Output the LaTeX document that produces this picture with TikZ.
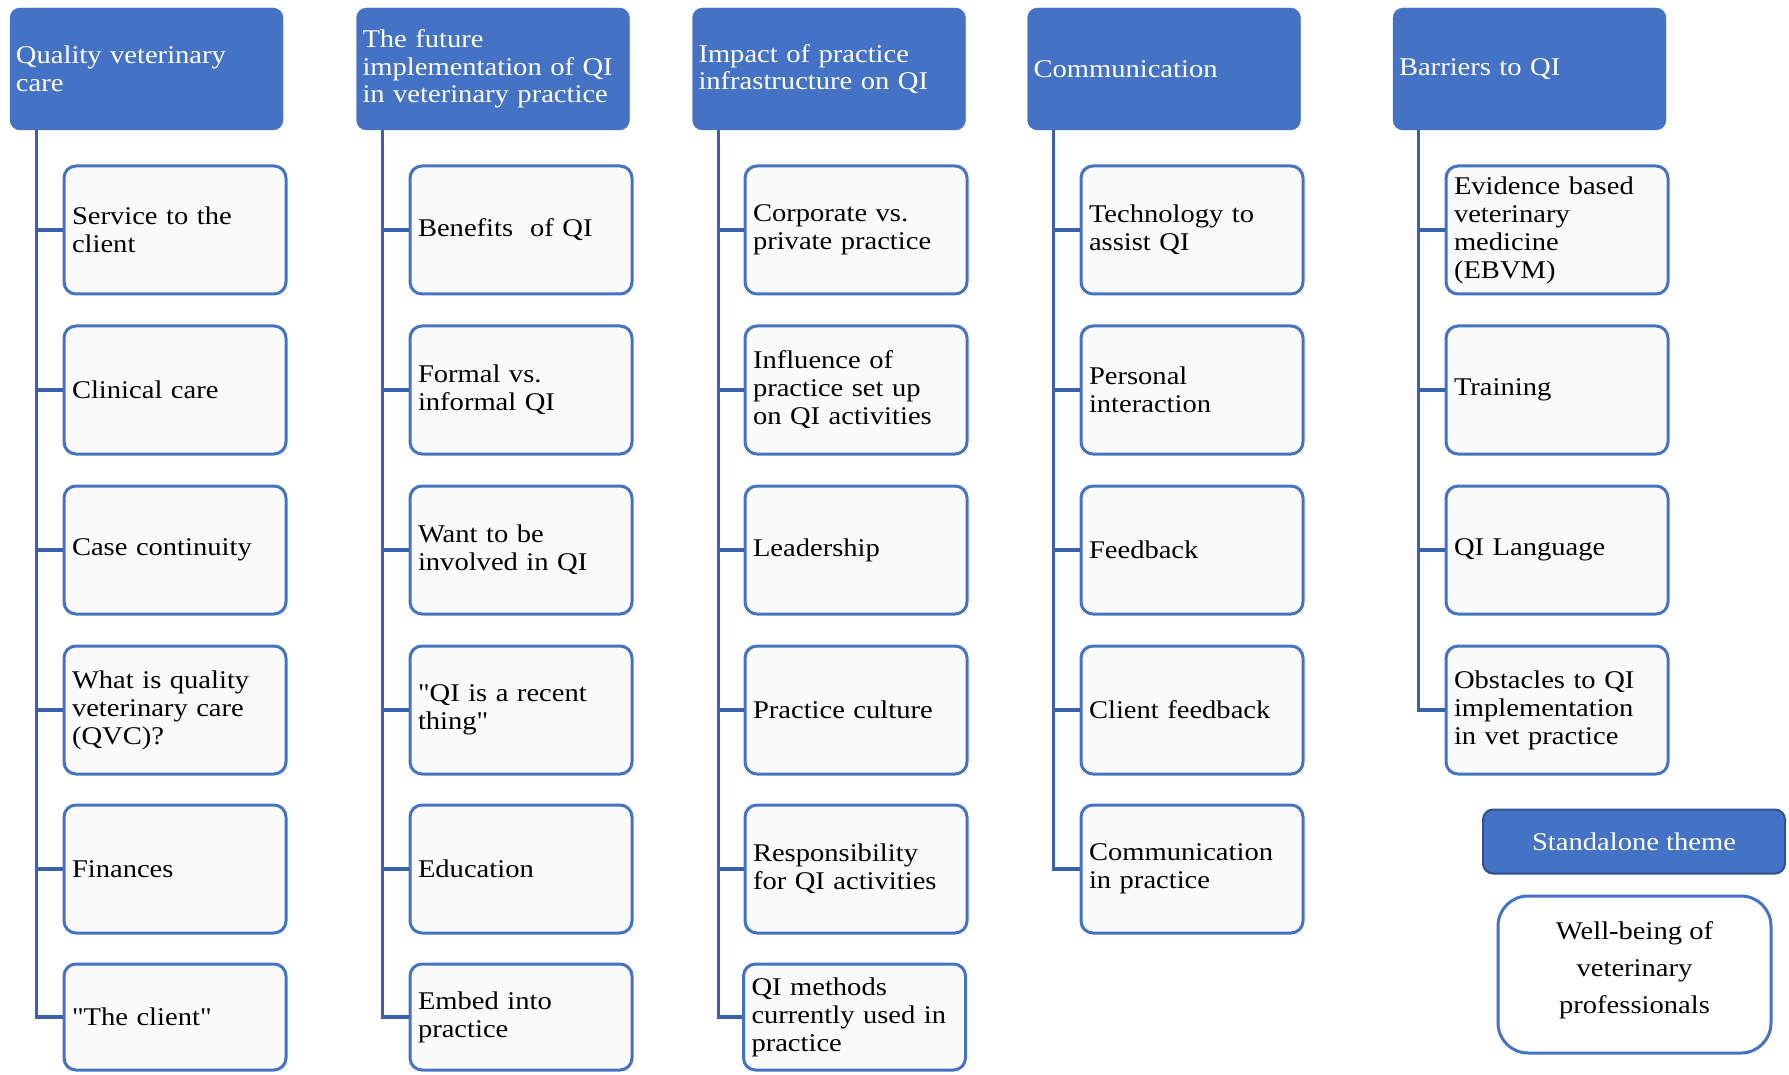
\documentclass[tikz,border=0pt]{standalone}
\usepackage{fontspec}
\setmainfont{Liberation Serif}[FakeStretch=1.12]
% face without the TeX character mapping, for straight quotes
\newfontface\quoteface{Liberation Serif}[FakeStretch=1.12, Ligatures=ResetAll]
\usetikzlibrary{calc}
\definecolor{hdrblue}{HTML}{4472C4}
\definecolor{linkblue}{HTML}{3A62AC}
\definecolor{edgeblue}{HTML}{2F528F}
\definecolor{boxfill}{HTML}{FAFAFA}
\newcommand{\sq}{{\quoteface\symbol{34}}}
\tikzset{
  theme/.style={draw=hdrblue, fill=hdrblue, rounded corners=10pt,
    minimum width=273pt, minimum height=122pt, text width=261pt, inner xsep=6pt,
    align=left, text=white, font=\fontsize{25.5}{27.5}\selectfont},
  sub/.style={draw=hdrblue, line width=3pt, fill=boxfill, rounded corners=12pt,
    minimum width=222pt, minimum height=128pt, text width=206pt, inner xsep=8pt,
    align=left, font=\fontsize{25.5}{28}\selectfont},
  lastsub/.style={sub, minimum height=106pt},
  link/.style={draw=linkblue, line width=3.2pt},
}
\begin{document}
\begin{tikzpicture}[x=1pt,y=-1pt]
\useasboundingbox (0,0) rectangle (1789,1075);

% theme headers
\node[theme] (h1) at (146.5,69) {Quality veterinary\\care};
\node[theme] (h2) at (493,69) {The future\\implementation of QI\\in veterinary practice};
\node[theme] (h3) at (829,69) {Impact of practice\\infrastructure on QI};
\node[theme] (h4) at (1164,69) {Communication};
\node[theme] (h5) at (1529.5,69) {Barriers to QI};

% column 1
\node[sub] (a1) at (175,230) {Service to the\\client};
\node[sub] (a2) at (175,390) {Clinical care};
\node[sub] (a3) at (175,550) {Case continuity};
\node[sub] (a4) at (175,710) {What is quality\\veterinary care\\(QVC)?};
\node[sub] (a5) at (175,869) {Finances};
\node[lastsub] (a6) at (175,1017) {\sq The client\sq};

% column 2
\node[sub] (b1) at (521,230) {Benefits~ of QI};
\node[sub] (b2) at (521,390) {Formal vs.\\informal QI};
\node[sub] (b3) at (521,550) {Want to be\\involved in QI};
\node[sub] (b4) at (521,710) {\sq QI is a recent\\thing\sq};
\node[sub] (b5) at (521,869) {Education};
\node[lastsub] (b6) at (521,1017) {Embed into\\practice};

% column 3
\node[sub] (c1) at (856,230) {Corporate vs.\\private practice};
\node[sub] (c2) at (856,390) {Influence of\\practice set up\\on QI activities};
\node[sub] (c3) at (856,550) {Leadership};
\node[sub] (c4) at (856,710) {Practice culture};
\node[sub] (c5) at (856,869) {Responsibility\\for QI activities};
\node[lastsub] (c6) at (854.5,1017) {QI methods\\currently used in\\practice};

% column 4
\node[sub] (d1) at (1192,230) {Technology to\\assist QI};
\node[sub] (d2) at (1192,390) {Personal\\interaction};
\node[sub] (d3) at (1192,550) {Feedback};
\node[sub] (d4) at (1192,710) {Client feedback};
\node[sub] (d5) at (1192,869) {Communication\\in practice};

% column 5
\node[sub] (e1) at (1557,230) {Evidence based\\veterinary\\medicine\\(EBVM)};
\node[sub] (e2) at (1557,390) {Training};
\node[sub] (e3) at (1557,550) {QI Language};
\node[sub] (e4) at (1557,710) {Obstacles to QI\\implementation\\in vet practice};

% spine start points under each header
\coordinate (s1) at ($(h1.south west)+(27,0)$);
\coordinate (s2) at ($(h2.south west)+(26,0)$);
\coordinate (s3) at ($(h3.south west)+(26,0)$);
\coordinate (s4) at ($(h4.south west)+(26,0)$);
\coordinate (s5) at ($(h5.south west)+(26,0)$);

% tree connectors
\foreach \k in {1,...,6} {
  \draw[link] (s1) |- (a\k.west);
  \draw[link] (s2) |- (b\k.west);
  \draw[link] (s3) |- (c\k.west);
}
\foreach \k in {1,...,5} \draw[link] (s4) |- (d\k.west);
\foreach \k in {1,...,4} \draw[link] (s5) |- (e\k.west);

% standalone theme
\node[draw=edgeblue, line width=2pt, fill=hdrblue, rounded corners=10pt,
  minimum width=302pt, minimum height=64pt, text=white,
  font=\fontsize{25.5}{28}\selectfont] (st) at (1634,841.5) {Standalone theme};
\node[draw=hdrblue, line width=3pt, fill=white, rounded corners=30pt,
  minimum width=273pt, minimum height=157pt, align=center,
  font=\fontsize{25.5}{37}\selectfont] (wb) at (1634.5,974.5)
  {Well-being of\\veterinary\\professionals\rule[-14pt]{0pt}{1pt}};
\end{tikzpicture}
\end{document}
